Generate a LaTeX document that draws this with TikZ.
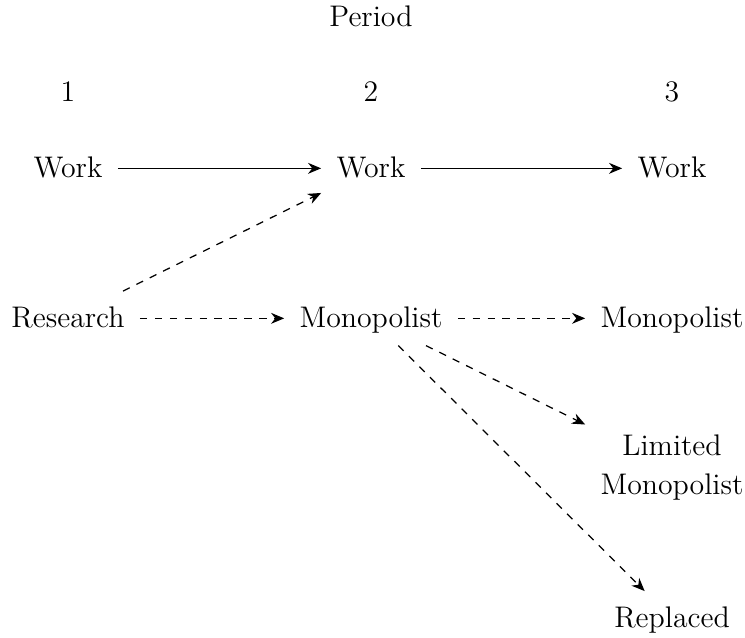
\documentclass[12pt,tikz,border=0pt]{standalone}
\usetikzlibrary{arrows.meta}
\begin{document}
\begin{tikzpicture}[x=0.4028pt,y=-0.4028pt,
  lbl/.style={anchor=base,inner sep=6.2pt,outer sep=0pt,align=center},
  one/.style={lbl,text height=1.6ex,text depth=0.25ex},
  arr/.style={-{Stealth[length=5.3pt,width=4.4pt]},line width=0.5pt},
  darr/.style={arr,dashed}]
\useasboundingbox (0,0) rectangle (745,637);
\node[one] (period) at (371,26) {Period};
\node[one] (p1) at (68,101) {1};
\node[one] (p2) at (371,101) {2};
\node[one] (p3) at (672,101) {3};
\node[one] (w1) at (68,177) {Work};
\node[one] (w2) at (371,177) {Work};
\node[one] (w3) at (672,177) {Work};
\node[one] (res) at (68,327) {Research};
\node[one] (m2) at (371,327) {Monopolist};
\node[one] (m3) at (672,327) {Monopolist};
\node[lbl,anchor=north] (lim) at (672,419) {Limited\\[1.5pt]Monopolist};
\node[one] (rep) at (672,627) {Replaced};
\draw[arr] (w1) -- (w2);
\draw[arr] (w2) -- (w3);
\draw[darr] (res) -- (w2);
\draw[darr] (res) -- (m2);
\draw[darr] (m2) -- (m3);
\draw[darr] (m2) -- (lim);
\draw[darr] (m2) -- (rep);
\end{tikzpicture}
\end{document}
